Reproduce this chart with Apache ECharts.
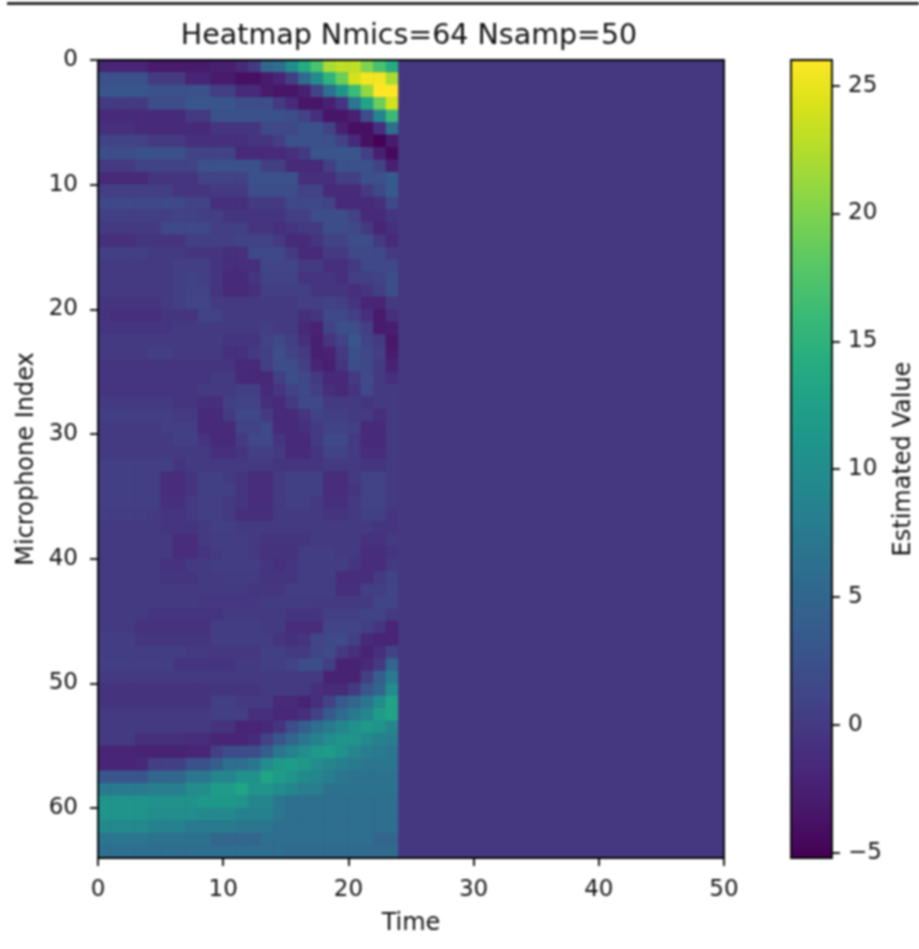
<!DOCTYPE html>
<html>
<head>
<meta charset="utf-8">
<style>html,body{margin:0;padding:0;background:#fff;overflow:hidden}#c{width:919px;height:949px;filter:blur(0.9px)}</style>
<script src="https://cdn.jsdelivr.net/npm/echarts@6/dist/echarts.min.js"></script>
</head>
<body>
<div id="c"></div>
<script>
const titleText = 'Heatmap Nmics=64 Nsamp=50';
const xName = 'Time', yName = 'Microphone Index', barName = 'Estimated Value';
const xTicks = [0,10,20,30,40,50];
const yTicks = [0,10,20,30,40,50,60];
const barTicks = [-5,0,5,10,15,20,25];
const nCols = 50, nRows = 64;
const valueMin = -5.2, valueMax = 26;
const flatValue = -0.2;   // every column from 24 on reads as one flat value
const viridis = ['#440154','#481568','#482677','#453781','#404788','#39568C','#33638D','#2D708E','#287D8E','#238A8D','#1F968B','#20A387','#29AF7F','#3CBB75','#55C667','#73D055','#95D840','#B8DE29','#DCE319','#FDE725'];
const activeRows = [
[-2,-2,-2,-2,-3,-3,-3,-3,-3,-2.5,-2.5,-1.5,0,5,6,10,14,17,22,23,23,20,17,14],
[2.5,2.5,2.5,2.5,0,0,0,-2,-2,-3,-3,-4,-4,-3,-2,0.5,5.5,10,15,19,24,25.5,25.5,22],
[3,3,3,3,2.5,2.5,2.5,2.5,2.5,0.5,0.5,-1.5,-1.5,-3,-3.5,-3.5,-2.5,1,6,11,16,21,26,26],
[0,0,0,0,2,2,2,3,3,3,3,2,2,2,0,-1.5,-3.5,-3.5,-2.5,-0.5,7,13,19,24],
[-1.5,-1.5,-1.5,-1.5,-1.5,-1.5,-1.5,0,0,2.5,2.5,2.5,2.5,2.5,2.5,2,1,-1,-3.5,-3.5,-2.5,2,9,16],
[-1,-1,-1,-1.5,-1.5,-1.5,-1.5,-1.5,-1.5,-0.5,-0.5,-0.5,-0.5,1.5,1.5,1.5,2.5,2.5,1,-2.5,-4,-4,-1,6],
[1,1,1,1,0,0,0,-1,-1,-1,-1,-1,-0.5,-0.5,0.5,2.5,2.5,2.5,2.5,1,-1.5,-4,-5,-3],
[2,2,2,2.5,2.5,2.5,2.5,1,1,1,1,-1.5,-1.5,-1.5,-1.5,-1,0,3,3,3,3,0.5,-2.5,-4.5],
[0,0,0,1,1,1,1,1,2.5,2.5,2.5,2.5,2.5,0.5,0.5,-1.5,-1.5,-1.5,0.5,2.5,2.5,2.5,1,-2.5],
[-1.5,-1.5,-1.5,-1.5,-0.5,-0.5,-0.5,-0.5,1,1,1,1,2.5,2.5,2.5,2.5,-1,-1,-1,0.5,0.5,2.5,2.5,3.5],
[0.5,0.5,0.5,0.5,0.5,0.5,-0.5,-0.5,-0.5,0,0,0,2,2,2,2,1,1,-1.5,-1.5,-1.5,0,1.5,3.5],
[1.5,1.5,1.5,1.5,1.5,1.5,1.5,1,1,-1,-1,-1,0,0,0,1.5,1.5,1.5,1,-1.5,-1.5,-1.5,-1,1.5],
[0.5,0.5,0.5,0.5,0.5,0.5,1,1,0.5,0.5,-0.5,-0.5,-0.5,-0.5,-0.5,0.5,0.5,2,2,2,1,-1.5,-1.5,-0.5],
[0,0,0,0,0,1.5,1.5,1.5,1.5,0.5,0.5,0.5,-0.5,-0.5,-1,-0.5,0,0,2,2,1.5,0,-2,-1],
[-1,-1,-1,-0.5,-0.5,-0.5,-0.5,0.5,0.5,0.5,0.5,1,1,1,0,-1.5,-1.5,-0.5,1,1,2,2,0,-1.5],
[0.5,0.5,0.5,0.5,0,0,0,-0.5,-0.5,-0.5,-1,-1,1.5,1.5,1.5,0,-1.5,-1.5,0,0,1.5,1.5,1.5,0],
[0,0,0,0,0,0,0.5,0.5,0.5,-0.5,-1.2,-1.2,-1,1.2,1.2,1.2,0,0,-1,-1,0,1.5,1.5,1.5],
[0,0,0,0,0,0,0.5,1,0.5,-0.5,-1.5,-1.5,-0.5,1,1,1,-0.5,-0.5,-0.5,-1,0.5,0.5,1,2],
[0,0,0,0,0,0,0.5,1,1,-0.5,-1.5,-1.5,-1,0.5,0.5,0.5,0.5,-0.5,-0.5,-0.5,-1,-0.5,0.5,2],
[-0.5,-0.5,-0.5,-0.5,-0.5,0,0.5,1.2,1.2,0,0,0,0,0,0,0,0.5,0.5,1,0.5,-0.5,-2,-2,0],
[-0.7,-1,-1,-1,-1,-0.5,-0.5,-0.5,1,1,0,0,0,0,0,0,-1,-0.5,1.5,1.5,0.5,-1,-3,-1],
[-0.5,-0.5,-0.5,-0.5,-0.5,-0.5,0,0,0,0,0,0,0,0.5,0,0,-1.7,-2.2,1,2.2,2.2,0.5,-3,-2.7],
[0,0,0,0,0,0,0,0,0,0,-0.5,-0.5,-0.5,1,1.5,0.5,-1,-2.5,-0.5,1,3,1,0,-3.3],
[0,0,0,0,0.5,0.5,0,0,0,0,-1,-1,0,0.5,2.2,1,0,-2.5,-2.2,0,2.2,1.5,0.5,-3],
[-0.5,-0.5,-0.5,-0.5,-0.5,-0.5,-0.5,-0.5,-0.5,-0.5,-0.5,-1.5,-1.5,0.5,2,2,0.5,-2,-2.5,-0.5,2,1.5,0,-2.2],
[-0.5,-0.5,-0.5,-0.5,-0.5,-0.5,-0.5,-0.5,-0.5,0,0,-1.5,-1.7,-1.7,0.5,2,1.5,0,-1.7,-1.7,0,1.7,0,-1],
[-0.5,-0.5,-0.5,-0.5,-0.5,-0.5,-0.5,-0.5,0,0,0,0.5,0.5,-1.5,-0.5,1,1.5,0.5,-1,-1.7,-0.5,1.5,0,0],
[0,0,0,0,0,0,-0.5,-0.5,-1,-1,0.5,1,1,-1,-1.5,0,1.5,1.5,0,0,0,-0.5,0,0],
[0.5,0.5,0.5,0.5,0.5,0.5,0,0,-1.5,-1.5,0,1.5,1.5,0,-1.5,-1.5,-0.5,1,0.5,0.5,0,0,-1,0],
[0,0,0,0,0,0.5,0.5,0.5,-1.5,-1.5,-1.5,1,1,1.5,-1.5,-1.5,-1,0,1,1,0.5,-1.5,-1.5,0],
[0,0,0,0,0,0,0.5,0.5,-0.5,-1.5,-1.5,0,1.5,1.5,-0.5,-1.5,-1.5,0,1.5,1.5,0,-1.5,-1.5,0],
[0,0,0,0,0,0,0,0,0,-1,-1,-0.5,0.5,0.5,0,-1.5,-1.5,-0.5,1,1,0,-1.2,-1.2,0],
[0.5,0.5,0.5,0.5,0.5,0.5,-0.5,0,0,0,0,0,0,0,-0.5,-0.5,-0.5,-0.5,0,0,0,-0.5,-0.5,0],
[0.5,0.5,0.5,0.5,0.5,-1.2,-1.2,-0.5,0.7,0.7,0,-0.5,-1.2,-1.2,0,0.7,0.7,0.7,-1.2,-1.2,0,1,1,0],
[0.5,0.5,0.5,0.5,0.5,-1.2,-1.2,-0.5,0.7,0.7,0.5,-0.5,-1.2,-1.2,0,0.7,0.7,0.7,-1.2,-1.2,-0.5,1,1,0],
[0.5,0.5,0.5,0.5,0.5,-1,-1,0,0.5,0.5,0,-0.5,-1.2,-1.2,0,0.5,0.5,0,-1,-1,0,1,1,0],
[0.3,0.3,0.3,0.3,0,-0.5,-0.5,0,0.5,0.5,0,-1,-1,-1,0,0,0,0,-0.5,-0.5,0,0.7,0.7,-0.5],
[0,0,0,0,0,-0.5,-0.5,-0.5,0,0.5,0.5,0,0,0,0,0,0,0,0,0,0,0,-0.5,-0.5],
[0,0,0,0,0,0,-1.2,-1.2,0,0.3,0.3,0.3,0,-0.5,-0.5,-0.5,-0.5,0,0,0,0,-0.8,-0.8,0],
[0,0,0,0,0,0,-1.2,-1.2,-0.5,0,0.4,0.4,0,-0.7,-0.7,-0.7,0.3,0.3,0.3,0,0,-1.2,-1.2,-0.5],
[0,0,0,0,0,-0.8,-0.8,0,0,0.3,0.3,0.3,0.3,-0.5,-1,-0.5,0.4,0.4,0.4,0.4,-0.5,-1.2,-1.2,0],
[0,0,0,0,0,-0.5,-0.5,-0.5,0,0,0.2,0.2,0.2,-0.5,-0.5,-0.5,0.4,0.4,0.4,-1.2,-1.2,-1.2,0,1],
[0,0,0,0,0,0,0,0,0,0,0,0,-0.4,-0.4,-0.4,0.4,0.4,0.4,0.4,-1,-1,0.5,0.5,1.2],
[0,0,0,0,0,0,0,0,-0.3,-0.3,-0.3,-0.3,-0.3,0.2,0.2,0.2,0.2,0,0,0,0,0,1.2,1.2],
[0,0,0,0,-0.5,-0.5,-0.5,-0.5,-0.5,-0.5,0,0,0,0,0,-0.5,-0.5,-0.5,0.5,0.5,0.5,1,1,0],
[0,0,0,-0.8,-0.8,-0.8,-0.8,-0.8,-0.8,0.4,0.4,0.4,0.4,0,0,-1.2,-1.2,-1.2,1.2,1.2,1.2,0.5,-0.5,-2],
[0.4,0.4,0.4,-0.4,-0.4,-0.4,-0.4,-0.4,-0.4,0.3,0.3,0.3,0.3,0.3,-0.5,-1,-0.5,1.2,1.5,1.7,0.5,-1.5,-2,-2],
[0.4,0.4,0.4,0.4,0.4,0.4,0.4,0,0,-0.3,-0.3,-0.3,-0.3,0.5,0.5,0,0,1.2,1.7,0,-1,-2.2,-1,1],
[0.5,0.5,0.5,0.5,0.5,0.5,-0.5,-0.5,-0.5,-0.5,-0.5,0,0,0.5,0.5,1.2,2,2,0.5,-2.2,-2.2,-1.5,0,5],
[0,0,0,0,0,0,0,0,0,0,0,0,0,0,0,0,0,0,-2.2,-2.2,-2.2,0.5,4,7.5],
[-0.7,-0.7,-0.7,-0.7,-0.7,-0.7,-0.7,-0.7,-0.7,-0.5,-0.5,-0.5,-0.5,0,0,0,0,-1,-1.5,-1.5,0,3,5,10],
[-0.7,-0.7,-0.7,-0.7,-0.7,-0.7,-0.7,-0.7,-0.7,0.5,0.5,0,0,0,-1.5,-1.5,-2.2,-1,1,3.5,5,7,10,13],
[0,0,0,0,0,0,0,0,0,0.5,0.5,0.5,-1,-1,-1.7,-1.7,-1,1,3.5,5.5,7.5,9,12,13],
[0,0,0,0,0,0,0,0,0,-0.7,-0.7,-2,-2,-1.7,-0.5,2,4,6,7.5,9,10.5,11.5,11,9],
[0,0,0,-1,-1,-1,-1,-1.2,-1.2,-2,-2,-2,-1.5,1,3,5,7,8.5,10,11,11,9.5,8.5,8],
[-2,-2,-2,-2.2,-2.2,-2.2,-2.2,-2,-2,0.5,2,2,2,4,7,8.5,10,11.5,12,10.5,9,8,7.5,7],
[-2,-2,-2,-1.7,0.5,0.5,0.5,2.5,2.5,4,6,6,7,10,11.5,12,11.5,10,9,8,7.5,7,7,7],
[3,3,3,3,5,5,5,7,7,9,9,10.5,10.5,13,12,11,9.5,9,8,7,6.5,6.5,6.5,6.5],
[7.5,7.5,7.5,7.5,8,8,8,10,10,12,12,13,11,11,10,9,8,8,6.5,6.5,6.5,6.5,6.5,6.5],
[11,11,11,11,10.5,10.5,10.5,10.5,11.5,11.5,11.5,11,9,9,7,6,6,6,6,6,6,6,6,6],
[11,11,11,11,10,10,10,10,9.5,9.5,9.5,8.5,8.5,8.5,7,6,6,6,6,6,6,6,6,6],
[9.5,9.5,9.5,9.5,8.5,8.5,8.5,7.5,7.5,7.5,7.5,7,7,7,6,6,6,6,6,6,6,6,6,6],
[7,7,7,7,6.5,6.5,6.5,6.5,6.5,5,5,5,5,6,6,6,6,6,6,6,6,6,5,5],
[6,6,6,6,6,6,6,6,6,6,6,6,6,6,6,5.5,5.5,5.5,5.5,5.5,5.5,5.5,5.5,5.5]
];

const cells = [];
for (let r = 0; r < nRows; r++) {
  for (let c = 0; c < nCols; c++) {
    cells.push([c, r, c < activeRows[r].length ? activeRows[r][c] : flatValue]);
  }
}
const indexLabels = n => Array.from({length: n}, (_, i) => String(i));

const font = 'DejaVu Sans';
const ink = '#111';
const tickSize = 23, nameSize = 24, titleSize = 28.5;
const lineStyle = {color: '#000', width: 1.8};

const hiddenCat = (data, extra) => Object.assign({type: 'category', data, show: false}, extra);
const frameLine = (pos, min, max, gridIndex, extra) => Object.assign({
  type: 'value', gridIndex, position: pos, min, max, z: 10,
  splitLine: {show: false}, axisTick: {show: false}, axisLabel: {show: false},
  axisLine: {show: true, onZero: false, lineStyle}
}, extra);
const ticks = (values, margin) => ({
  axisTick: {show: true, length: 8, inside: false, lineStyle, customValues: values},
  axisLabel: {
    show: true, customValues: values, color: ink, fontFamily: font, fontSize: tickSize, margin,
    hideOverlap: false, showMinLabel: true, showMaxLabel: true,
    formatter: v => (v < 0 ? '\u2212' + Math.abs(v) : String(v))
  }
});
const named = (name, gap) => ({
  name, nameLocation: 'middle', nameGap: gap, nameMoveOverlap: false,
  nameTextStyle: {color: ink, fontFamily: font, fontSize: nameSize}
});

const option = {
  animation: false,
  backgroundColor: '#fff',
  textStyle: {fontFamily: font},
  title: {
    text: titleText, left: 404, top: 17, textAlign: 'center',
    textStyle: {color: ink, fontFamily: font, fontSize: titleSize, fontWeight: 'normal'}
  },
  grid: [
    {left: 98, top: 60, width: 626, height: 798, show: true, backgroundColor: '#46347f', borderWidth: 0, outerBoundsMode: 'none'},
    {left: 791, top: 60, width: 41, height: 798, outerBoundsMode: 'none'}
  ],
  xAxis: [
    hiddenCat(indexLabels(nCols), {gridIndex: 0}),
    frameLine('bottom', 0, nCols, 0, Object.assign({}, ticks(xTicks, 21), named(xName, 54))),
    frameLine('top', 0, nCols, 0),
    frameLine('bottom', 0, 1, 1),
    frameLine('top', 0, 1, 1)
  ],
  yAxis: [
    hiddenCat(indexLabels(nRows), {gridIndex: 0, inverse: true}),
    frameLine('left', 0, nRows, 0, Object.assign({inverse: true}, ticks(yTicks, 20), named(yName, 59))),
    frameLine('right', 0, nRows, 0, {inverse: true}),
    frameLine('left', valueMin, valueMax, 1),
    frameLine('right', valueMin, valueMax, 1, Object.assign({}, ticks(barTicks, 16), named(barName, 60)))
  ],
  visualMap: {
    type: 'continuous', seriesIndex: 0, min: valueMin, max: valueMax,
    left: 791, top: 60, itemWidth: 41, itemHeight: 798, padding: 0,
    calculable: false, text: null, showLabel: false, hoverLink: false,
    inRange: {color: viridis}
  },
  series: [{
    type: 'heatmap', xAxisIndex: 0, yAxisIndex: 0, data: cells,
    progressive: 0, itemStyle: {borderWidth: 0}, emphasis: {disabled: true}
  }],
  graphic: [{
    type: 'line', shape: {x1: 7, y1: 3.5, x2: 919, y2: 3.5},
    style: {stroke: '#000', lineWidth: 2.5}, silent: true
  }]
};
const chart = echarts.init(document.getElementById('c'), null, {renderer: 'canvas'});
chart.setOption(option);
</script>
</body>
</html>
